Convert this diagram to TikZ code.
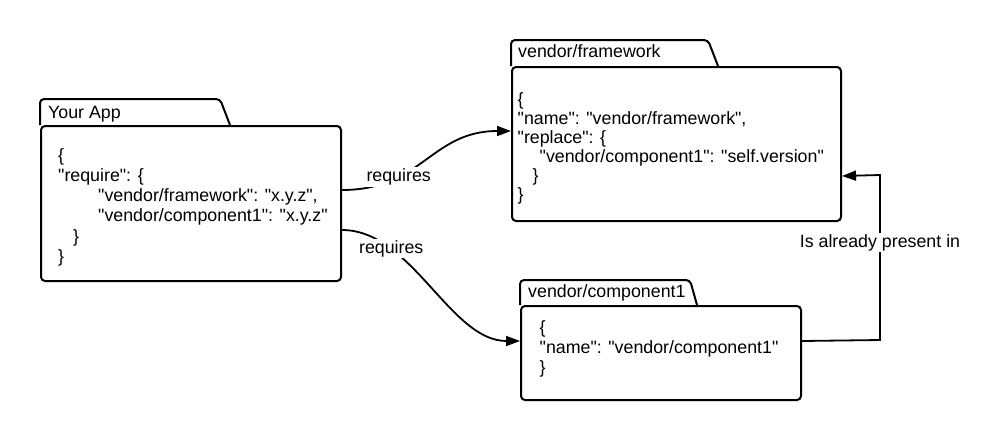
\documentclass[tikz,border=0pt]{standalone}
\usepackage{fontspec}
\setmainfont{Liberation Sans}[Ligatures=TeXOff]
\usetikzlibrary{arrows.meta}
\begin{document}
\begin{tikzpicture}[x=1pt,y=-1pt,
  box/.style={draw=black, line width=2pt, rounded corners=4pt},
  body/.style={box, anchor=north west, inner sep=0pt, fill=white},
  code/.style={anchor=north west, inner sep=0pt, align=left},
  ttl/.style={anchor=base west, inner sep=0pt, font=\fontsize{17.8}{19.5}\selectfont},
  conn/.style={line width=1.8pt, -{Triangle[length=14pt,width=10pt]}},
  lbl/.style={fill=white, inner sep=1.5pt, font=\fontsize{17.8}{19.5}\selectfont}]
\useasboundingbox (0,0) rectangle (1001,440);

% bodies
\node[body, minimum width=300pt, minimum height=155pt] (app) at (40,125) {};
\node[body, minimum width=329pt, minimum height=154pt] (fw) at (511,66) {};
\node[body, minimum width=280pt, minimum height=94pt] (comp) at (520,305) {};

% tabs
\draw[box] (app.north west) -- ++(0,-26) -- ++(180,0) -- ++(10,26);
\draw[box] (fw.north west) -- ++(0,-26) -- ++(197,0) -- ++(10,26);
\draw[box] (comp.north west) -- ++(0,-25) -- ++(170,0) -- ++(7,25);

% titles
\node[ttl] (appt) at (48,118) {Your App};
\node[ttl] (fwt) at (518,57) {vendor/framework};
\node[ttl] (compt) at (528,297) {vendor/component1};

% code
\node[code, font=\fontsize{17.8}{20.2}\selectfont] (appc) at (58,146.9) {\strut\{\\
"require": \{\\
\hspace*{40pt}"vendor/framework": "x.y.z",\\
\hspace*{40pt}"vendor/component1": "x.y.z"\\
\hspace*{15pt}\}\\
\}};
\node[code, font=\fontsize{17.8}{19}\selectfont] (fwc) at (517.5,91.7) {\strut\{\\
"name": "vendor/framework",\\
"replace": \{\\
\hspace*{22pt}"vendor/component1": "self.version"\\
\hspace*{15pt}\}\\
\}};
\node[code, font=\fontsize{17.8}{20}\selectfont] (compc) at (539.5,319) {\strut\{\\
"name": "vendor/component1"\\
\}};

% connectors
\draw[conn] ([yshift=13.5pt]app.east) .. controls +(80,0) and +(-80,0) .. ([yshift=13pt]fw.west)
  node[lbl, pos=0.3] (req1) {requires};
\draw[conn] ([yshift=-26.5pt]app.east) .. controls +(70,0) and +(-70,0) .. ([yshift=12pt]comp.west)
  node[lbl, pos=0.26] (req2) {requires};

\coordinate (r1) at (880,340);
\coordinate (r2) at (880,175);
\draw[conn] ([yshift=12pt]comp.east) -- (r1) -- node[lbl, pos=0.59] (pres) {Is already present in} (r2) -- ([yshift=-32pt]fw.east);
\end{tikzpicture}
\end{document}
